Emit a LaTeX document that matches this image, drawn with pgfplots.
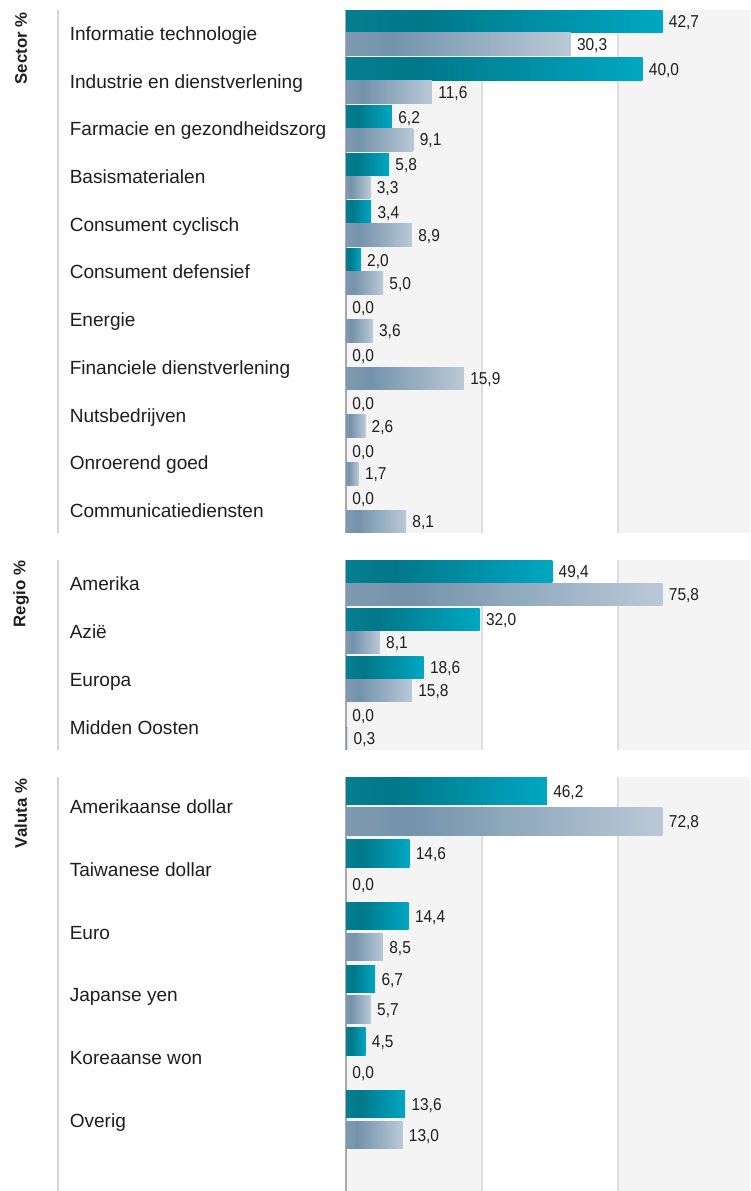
\documentclass[border=0pt]{standalone}
\usepackage{fontspec}
\setmainfont{Liberation Sans}
\newfontfamily\valfont[FakeStretch=0.9]{Liberation Sans}
\usepackage{pgfplots}
\usepackage{pgfplotstable}
\pgfplotsset{compat=1.18}

\definecolor{tealL}{HTML}{057E90}
\definecolor{tealD}{HTML}{00788A}
\definecolor{tealR}{HTML}{00A7C3}
\definecolor{greyL}{HTML}{7F9AB0}
\definecolor{greyD}{HTML}{7393AB}
\definecolor{greyR}{HTML}{BAC9D7}
\definecolor{band}{HTML}{F4F4F4}
\definecolor{sep}{HTML}{DEDEDE}
\definecolor{axgray}{HTML}{A8A8A8}
\definecolor{colline}{HTML}{D4D4D4}
\definecolor{txt}{HTML}{1E1E1E}

% path bbox maps to 25bp..75bp
\pgfdeclarehorizontalshading{tealsh}{100bp}{color(0bp)=(tealL); color(25bp)=(tealL);
  color(37bp)=(tealD); color(75bp)=(tealR); color(100bp)=(tealR)}
\pgfdeclarehorizontalshading{greysh}{100bp}{color(0bp)=(greyL); color(25bp)=(greyL);
  color(35bp)=(greyD); color(75bp)=(greyR); color(100bp)=(greyR)}

% idx  fonds  index
\pgfplotstableread{
idx fonds index
0 42.7 30.3
1 40.0 11.6
2 6.2 9.1
3 5.8 3.3
4 3.4 8.9
5 2.0 5.0
6 0.0 3.6
7 0.0 15.9
8 0.0 2.6
9 0.0 1.7
10 0.0 8.1
}\sector

\pgfplotstableread{
idx fonds index
0 49.4 75.8
1 32.0 8.1
2 18.6 15.8
3 0.0 0.3
}\regio

\pgfplotstableread{
idx fonds index
0 46.2 72.8
1 14.6 0.0
2 14.4 8.5
3 6.7 5.7
4 4.5 0.0
5 13.6 13.0
}\valuta

\pgfplotsset{
  panel/.style={
    scale only axis, width=303pt, anchor=north west,
    xmin=0, y dir=reverse,
    axis x line=none, axis y line=left,
    y axis line style={-, draw=axgray, line width=1.5pt},
    ytick style={draw=none},
    yticklabel style={anchor=base west, inner sep=0pt, xshift=-205.25pt, yshift=-5.6pt,
      font=\fontsize{14.3}{16}\selectfont, text=txt},
    clip=false, set layers,
  },
  % one bar per plot so that every bar gets its own gradient
  sbar/.style n args={4}{xbar, draw=none, shade, shading=#1,
    bar width=#2, bar shift=#3, y filter/.expression={y==#4 ? y : nan}},
  lbl/.style 2 args={xbar, draw=none, fill=none, bar width=#1, bar shift=#2,
    point meta=x, nodes near coords align=horizontal,
    nodes near coords={\pgfmathprintnumber[assume math mode=true,use comma,fixed,fixed zerofill,precision=1]{\pgfplotspointmeta}},
    every node near coord/.append style={font=\valfont\fontsize{12.9}{14}\selectfont,
      text=txt, anchor=base west, inner sep=0pt, xshift=4.6pt, yshift=#2, yshift=-4.6pt}},
}

\newcommand\decor[1]{%
  \begin{pgfonlayer}{axis background}
    \fill[band] (axis description cs:0,0) rectangle (axis description cs:0.3366,1);
    \fill[band] (axis description cs:0.673,0) rectangle (axis description cs:1,1);
    \draw[sep, line width=1.5pt] (axis description cs:0.3366,0) -- (axis description cs:0.3366,1);
    \draw[sep, line width=1.5pt] (axis description cs:0.673,0) -- (axis description cs:0.673,1);
  \end{pgfonlayer}
  \draw[colline, line width=1.1pt] (axis description cs:-0.7129,0) -- (axis description cs:-0.7129,1);
  \node[rotate=90, anchor=east, inner sep=0pt, text=txt,
    font=\bfseries\fontsize{12.6}{14}\selectfont] at (axis description cs:-0.8045,0.996) {#1};
}

\begin{document}
\begin{tikzpicture}

\begin{axis}[panel, at={(259.5pt,-7.5pt)}, height=392.25pt,
  xmax=54.5, ymin=-0.48, ymax=10.48,
  ytick={0,...,10},
  yticklabels={Informatie technologie, Industrie en dienstverlening,
    Farmacie en gezondheidszorg, Basismaterialen, Consument cyclisch,
    Consument defensief, Energie, Financiele dienstverlening,
    Nutsbedrijven, Onroerend goed, Communicatiediensten}]
  \decor{Sector \%}
  \pgfplotsinvokeforeach{0,...,5}{
    \addplot[sbar={tealsh}{17.1pt}{8.6pt}{#1}] table[x=fonds, y=idx] {\sector};}
  \pgfplotsinvokeforeach{0,...,10}{
    \addplot[sbar={greysh}{17.1pt}{-8.6pt}{#1}] table[x=index, y=idx] {\sector};}
  \addplot[lbl={17.1pt}{8.6pt}] table[x=fonds, y=idx] {\sector};
  \addplot[lbl={17.1pt}{-8.6pt}] table[x=index, y=idx] {\sector};
\end{axis}

\begin{axis}[panel, at={(259.5pt,-420pt)}, height=142.5pt,
  xmax=96.75, ymin=-0.48, ymax=3.48,
  ytick={0,...,3},
  yticklabels={Amerika, Azië, Europa, Midden Oosten}]
  \decor{Regio \%}
  \pgfplotsinvokeforeach{0,...,2}{
    \addplot[sbar={tealsh}{17.1pt}{8.6pt}{#1}] table[x=fonds, y=idx] {\regio};}
  \pgfplotsinvokeforeach{0,...,3}{
    \addplot[sbar={greysh}{17.1pt}{-8.6pt}{#1}] table[x=index, y=idx] {\regio};}
  \addplot[lbl={17.1pt}{8.6pt}] table[x=fonds, y=idx] {\regio};
  \addplot[lbl={17.1pt}{-8.6pt}] table[x=index, y=idx] {\regio};
\end{axis}

\begin{axis}[panel, at={(259.5pt,-582.75pt)}, height=310.5pt,
  xmax=92.93, ymin=-0.467, ymax=6.14,
  ytick={0,...,5},
  yticklabels={Amerikaanse dollar, Taiwanese dollar, Euro, Japanse yen,
    Koreaanse won, Overig}]
  \decor{Valuta \%}
  \pgfplotsinvokeforeach{0,...,5}{
    \addplot[sbar={tealsh}{20.6pt}{11.5pt}{#1}] table[x=fonds, y=idx] {\valuta};}
  \pgfplotsinvokeforeach{0,2,3,5}{
    \addplot[sbar={greysh}{20.6pt}{-11.5pt}{#1}] table[x=index, y=idx] {\valuta};}
  \addplot[lbl={20.6pt}{11.5pt}] table[x=fonds, y=idx] {\valuta};
  \addplot[lbl={20.6pt}{-11.5pt}] table[x=index, y=idx] {\valuta};
\end{axis}

\pgfresetboundingbox
\path (0,0) rectangle (562.5pt,-893.25pt);
\end{tikzpicture}
\end{document}
